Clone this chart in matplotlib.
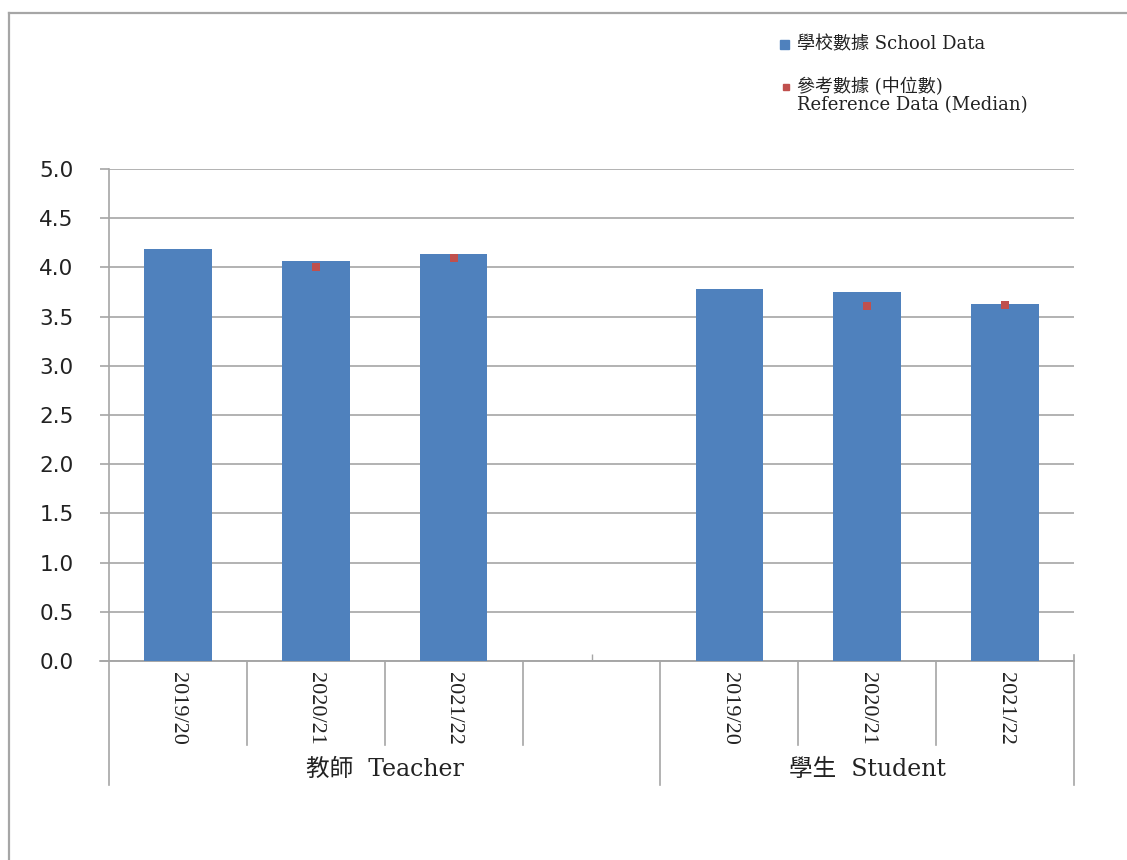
import matplotlib
matplotlib.use("Agg")
import matplotlib.pyplot as plt
from matplotlib.lines import Line2D
from matplotlib.patches import Rectangle

# data
years = ["2019/20", "2020/21", "2021/22"]
groups = ["教師  Teacher", "學生  Student"]
teacher_school = [4.19, 4.07, 4.14]
teacher_ref = [None, 4.00, 4.10]
student_school = [3.78, 3.75, 3.63]
student_ref = [None, 3.61, 3.62]
yticks = [0.0, 0.5, 1.0, 1.5, 2.0, 2.5, 3.0, 3.5, 4.0, 4.5, 5.0]

BLUE = "#4f81bd"
RED = "#c0504d"
GREY = "#a6a6a6"
INK = "#222222"
SERIF = ["DejaVu Serif", "Noto Sans CJK TC"]
NARROW = ["Liberation Serif", "Noto Sans CJK TC"]

W, H = 1127, 860
fig = plt.figure(figsize=(W / 100, H / 100), dpi=100)
fig.patch.set_facecolor("white")

# outer chart frame (left + top edges visible)
fig.add_artist(Line2D([9 / W, 9 / W], [-0.1, 1 - 13 / H], color=GREY, lw=1.6))
fig.add_artist(Line2D([9 / W, 1.1], [1 - 13 / H, 1 - 13 / H], color=GREY, lw=1.6))

ax = fig.add_axes([109 / W, 1 - 661 / H, (1074 - 109) / W, (661 - 169) / H])

# slot positions: teacher 0-2, blank 3, student 4-6
t_pos = [0, 1, 2]
s_pos = [4, 5, 6]
ax.bar(t_pos + s_pos, teacher_school + student_school, width=0.49,
       color=BLUE, zorder=3)
ref_x = [x for x, v in zip(t_pos + s_pos, teacher_ref + student_ref) if v is not None]
ref_y = [v for v in teacher_ref + student_ref if v is not None]
ax.plot(ref_x, ref_y, ls="none", marker="s", ms=5.5, color=RED,
        markeredgewidth=0, zorder=4)

ax.set_xlim(-0.5, 6.5)
ax.set_ylim(0, 5)
ax.set_yticks(yticks)
ax.set_yticklabels([f"{v:.1f}" for v in yticks], fontsize=15.5,
                   family="DejaVu Sans", color=INK)
ax.tick_params(axis="y", length=6.5, width=1.2, color=GREY, pad=19)
ax.yaxis.grid(True, color=GREY, lw=1.2, zorder=0)
ax.set_axisbelow(True)
for s in ["top", "right"]:
    ax.spines[s].set_visible(False)
for s in ["left", "bottom"]:
    ax.spines[s].set_color(GREY)
    ax.spines[s].set_linewidth(1.2)

# minor ticks at slot centres, no major tick labels
ax.set_xticks([])
ax.set_xticks(range(7), minor=True)
ax.tick_params(axis="x", which="minor", direction="in", length=5,
               color=GREY, width=1.0, labelbottom=False)

tr = ax.get_xaxis_transform()
# slot boundary lines below the axis
for b in [0.5, 1.5, 2.5, 4.5, 5.5]:
    ax.plot([b, b], [0, -0.171], color=GREY, lw=1.2, transform=tr,
            clip_on=False)
for b in [-0.5, 3.5, 6.5]:
    ax.plot([b, b], [0.012 if b == 6.5 else 0, -0.252], color=GREY, lw=1.2,
            transform=tr, clip_on=False)
ax.plot([-0.565, 6.5], [0, 0], color=GREY, lw=1.2, transform=tr, clip_on=False)

# year labels
for x in t_pos + s_pos:
    ax.text(x, -0.022, years[x if x < 3 else x - 4], rotation=270,
            ha="center", va="top", fontsize=16, family=NARROW,
            transform=tr, color=INK)

# group labels
ax.text(1.5, -0.22, groups[0], ha="center", va="center", fontsize=17,
        family=SERIF, transform=tr, color=INK)
ax.text(5.0, -0.22, groups[1], ha="center", va="center", fontsize=17,
        family=SERIF, transform=tr, color=INK)

# legend
fig.add_artist(Rectangle((780 / W, 1 - 49 / H), 9 / W, 9 / H,
                         transform=fig.transFigure, color=BLUE))
fig.add_artist(Rectangle((783 / W, 1 - 90 / H), 6 / W, 6 / H,
                         transform=fig.transFigure, color=RED))
fig.text(797 / W, 1 - 44 / H, "學校數據 School Data", ha="left", va="center",
         fontsize=13, family=SERIF, color=INK)
fig.text(797 / W, 1 - 87 / H, "參考數據 (中位數)", ha="left", va="center",
         fontsize=13, family=SERIF, color=INK)
fig.text(797 / W, 1 - 105 / H, "Reference Data (Median)", ha="left",
         va="center", fontsize=13, family=SERIF, color=INK)

fig.savefig("out.png", dpi=100, facecolor="white")
